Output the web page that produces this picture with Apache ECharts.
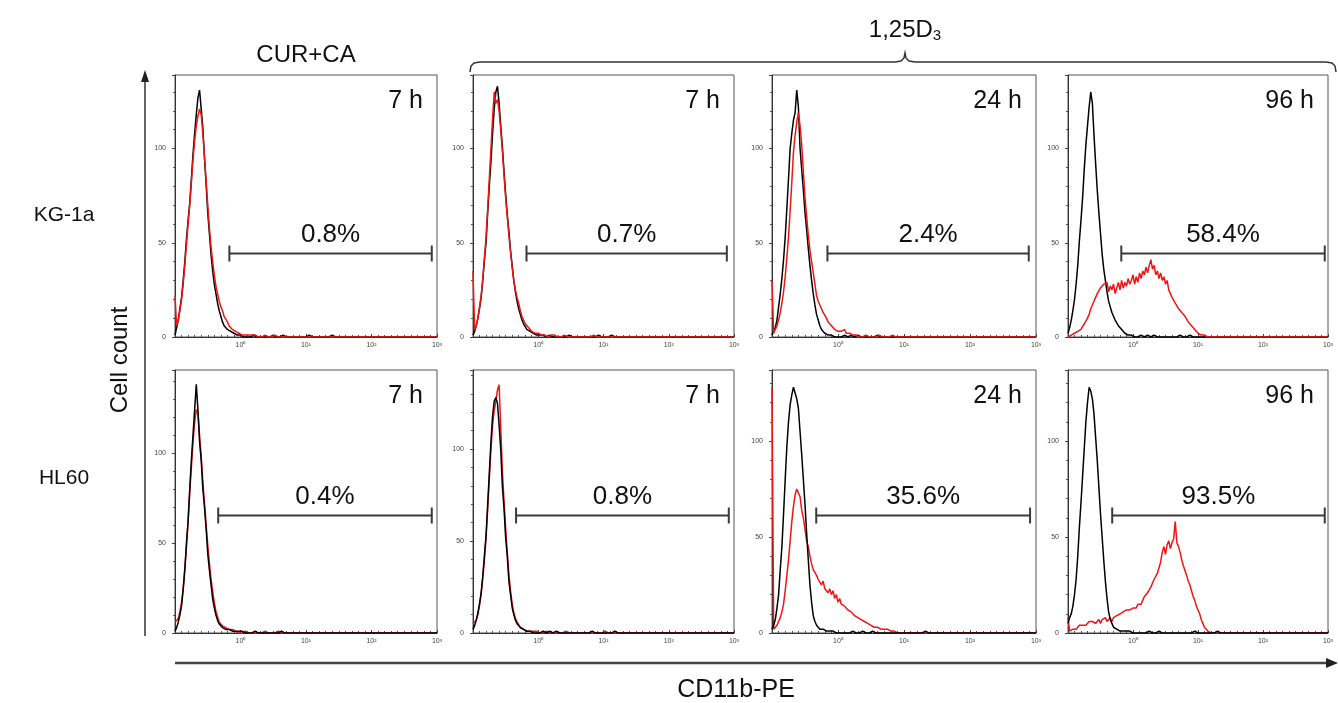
<!DOCTYPE html>
<html><head><meta charset="utf-8">
<script src="https://cdn.jsdelivr.net/npm/echarts@6/dist/echarts.min.js"></script>
<style>html,body{margin:0;padding:0;background:#fff}#c{width:1338px;height:703px}</style>
</head><body><div id="c"></div>
<script>
// ---- DATA ----
// channel positions in log10(fluorescence) units (10^-1 .. 10^3)
const channels = [
-1.000,-0.975,-0.950,-0.925,-0.900,-0.875,-0.850,-0.825,-0.800,-0.775,
-0.750,-0.725,-0.700,-0.675,-0.650,-0.625,-0.600,-0.575,-0.550,-0.525,
-0.500,-0.475,-0.450,-0.425,-0.400,-0.375,-0.350,-0.325,-0.300,-0.275,
-0.250,-0.225,-0.200,-0.175,-0.150,-0.125,-0.100,-0.075,-0.050,-0.025,
0.000,0.025,0.050,0.075,0.100,0.125,0.150,0.175,0.200,0.225,
0.250,0.275,0.300,0.325,0.350,0.375,0.400,0.425,0.450,0.475,
0.500,0.525,0.550,0.575,0.600,0.625,0.650,0.675,0.700,0.725,
0.750,0.775,0.800,0.825,0.850,0.875,0.900,0.925,0.950,0.975,
1.000,1.025,1.050,1.075,1.100,1.125,1.150,1.175,1.200,1.225,
1.250,1.275,1.300,1.325,1.350,1.375,1.400,1.425,1.450,1.475,
1.500,1.600,1.800,2.000,2.200,2.400,2.600,2.800,3.000];

// KG-1a, CUR+CA 7 h
const kg1a_curca_7h_ctrl = [
1,5,9,15,21,30,40,52,62,71, 84,97,108,118,127,131,121,111,95,81,
66,55,44,35,28,23,18,14,11,8, 6,5,4,3,3,2,2,1,1,1,
1,1,0,1,0,1,0,0,1,0, 0,1,0,0,0,1,0,0,0,0, 1,0,0,0,0,0,1,0,0,0,
0,0,0,1,0,0,0,0,0,0, 0,0,1,0,0,0,0,0,0,0, 0,0,0,0,0,0,1,0,0,0, 0,0,0,0,0,0,0,0,0];
const kg1a_curca_7h_trt = [
22,6,9,14,20,28,38,49,60,70, 82,94,104,112,117,121,118,108,96,83,
70,58,48,40,33,27,23,19,16,14, 11,10,8,6,5,4,3,3,2,2,
2,1,2,1,1,1,0,1,0,1, 1,0,1,0,0,1,0,0,1,0, 0,1,0,0,0,0,1,0,0,0,
0,0,1,0,0,0,0,0,1,0, 0,0,0,0,0,0,0,0,0,0, 0,0,0,0,0,0,0,0,0,0, 0,0,0,0,0,0,0,0,0];
// KG-1a, 1,25D3 7 h
const kg1a_d3_7h_ctrl = [
1,3,6,10,15,21,30,41,50,66, 80,93,108,121,130,133,124,112,101,88,
76,65,56,46,38,30,24,19,15,12, 9,7,6,4,3,3,2,2,2,1,
2,1,0,1,1,0,0,1,0,0, 1,0,0,0,1,0,0,0,0,1, 0,0,0,0,1,0,0,0,0,0,
1,0,0,0,0,0,0,1,0,0, 0,0,0,0,0,1,0,0,0,0, 0,0,0,0,0,0,0,0,0,0, 0,0,0,0,0,0,0,0,0];
const kg1a_d3_7h_trt = [
35,4,6,10,16,22,31,42,53,68, 84,100,116,130,124,126,120,110,99,86,
74,64,54,45,37,30,25,21,18,14, 11,9,7,6,5,4,3,3,2,2,
2,1,1,2,1,1,0,1,1,0, 1,0,0,1,0,0,1,0,0,0, 0,1,0,0,0,0,0,1,0,0,
0,0,0,0,1,0,0,0,0,0, 0,0,0,0,0,0,0,1,0,0, 0,0,0,0,0,0,0,0,0,0, 0,0,0,0,0,0,0,0,0];
// KG-1a, 1,25D3 24 h
const kg1a_d3_24h_ctrl = [
1,3,5,9,16,23,31,41,53,68, 84,100,108,115,119,131,122,100,89,78,
66,57,47,38,30,23,17,12,9,6, 4,3,2,2,1,1,1,1,0,1,
0,1,0,0,1,0,0,0,1,0, 0,0,1,0,0,0,0,1,0,0, 0,0,0,0,1,0,0,0,0,0,
0,1,0,0,0,0,0,0,0,1, 0,0,0,0,0,0,0,0,0,0, 0,0,0,1,0,0,0,0,0,0, 0,0,0,0,0,0,0,0,0];
const kg1a_d3_24h_trt = [
30,2,4,6,9,13,18,24,32,42, 53,67,82,98,107,114,119,112,102,88,
74,64,54,46,40,34,28,22,19,17, 15,13,12,10,8,7,6,5,4,3,
3,2,3,2,4,2,1,2,1,1, 0,1,1,0,1,0,0,1,0,0, 1,0,0,0,0,1,0,0,0,0,
0,0,0,1,0,0,0,0,0,0, 0,0,0,0,0,0,1,0,0,0, 0,0,0,0,0,0,0,0,0,0, 0,0,0,0,0,0,0,0,0];
// KG-1a, 1,25D3 96 h
const kg1a_d3_96h_ctrl = [
2,5,9,14,20,28,38,51,62,74, 89,102,112,122,130,124,107,92,78,66,
55,44,36,30,24,19,16,13,11,9, 8,6,5,4,3,2,2,1,1,1,
1,0,1,0,0,1,0,0,0,1, 0,0,0,1,0,0,0,0,1,0, 0,0,1,0,0,0,0,0,0,1,
0,0,0,0,0,1,0,0,0,0, 0,0,0,0,0,0,0,0,1,0, 0,0,0,0,0,0,0,0,0,0, 0,0,0,0,0,0,0,0,0];
const kg1a_d3_96h_trt = [
0,1,1,2,2,2,3,3,4,5, 7,8,10,12,15,17,19,21,23,24,
26,25,28,27,29,24,27,25,28,23, 26,29,25,30,26,29,27,31,28,30,
33,28,32,29,34,31,35,33,37,34, 38,41,36,38,33,35,31,34,30,32,
28,30,25,24,21,22,18,17,15,16, 13,13,11,10,8,8,6,5,4,3,
2,2,1,1,1,0,0,0,0,0, 0,0,0,0,0,0,0,0,0,0, 0,0,0,0,0,0,0,0,0];
// HL60, CUR+CA 7 h
const hl60_curca_7h_ctrl = [
1,3,6,10,15,24,35,50,62,80, 96,110,124,138,124,106,96,80,70,58,
44,35,27,19,14,10,7,5,4,3, 3,2,2,2,1,1,1,1,0,1,
0,1,0,0,1,0,0,0,0,1, 0,0,1,0,0,0,0,0,1,0, 0,0,0,0,0,1,0,0,0,0,
0,0,1,0,0,0,0,0,0,0, 0,0,0,0,0,0,1,0,0,0, 0,0,0,0,0,0,0,0,0,0, 0,0,0,0,0,0,0,0,0];
const hl60_curca_7h_trt = [
6,5,8,12,17,25,36,48,62,78, 92,106,117,124,122,110,98,84,72,60,
49,39,30,23,17,12,9,6,5,4, 3,3,2,2,1,2,1,1,1,0,
1,0,0,1,0,0,1,0,0,0, 1,0,0,0,0,1,0,0,0,0, 0,0,0,1,0,0,0,0,0,0,
0,0,0,0,0,0,1,0,0,0, 0,0,0,0,0,0,0,0,0,0, 0,0,0,0,0,0,0,0,0,0, 0,0,0,0,0,0,0,0,0];
// HL60, 1,25D3 7 h
const hl60_d3_7h_ctrl = [
2,4,7,11,16,22,31,42,53,70, 87,104,118,126,128,125,113,100,80,68,
52,42,28,21,14,10,7,5,4,3, 2,2,1,1,1,1,1,0,1,0,
1,0,0,1,0,0,0,1,0,0, 0,1,0,0,0,0,1,0,0,0, 0,0,0,0,1,0,0,0,0,0,
0,0,0,1,0,0,0,0,0,0, 0,0,0,0,0,0,0,1,0,0, 0,0,0,0,0,0,0,0,0,0, 0,0,0,0,0,0,0,0,0];
const hl60_d3_7h_trt = [
5,4,7,10,15,21,30,40,52,67, 84,100,113,121,126,132,135,112,88,72,
57,44,32,23,16,11,8,6,5,3, 3,2,2,1,1,1,0,1,0,1,
0,0,1,0,0,1,0,0,0,0, 1,0,0,0,0,0,0,1,0,0, 0,0,0,0,0,0,0,0,1,0,
0,0,0,0,0,0,0,0,0,0, 0,1,0,0,0,0,0,0,0,0, 0,0,0,0,0,0,0,0,0,0, 0,0,0,0,0,0,0,0,0];
// HL60, 1,25D3 24 h
const hl60_d3_24h_ctrl = [
2,4,7,13,20,33,45,62,80,97, 110,119,124,128,127,122,117,105,93,80,
67,52,38,25,16,9,6,4,3,2, 2,2,1,1,1,1,0,1,0,0,
1,0,0,0,1,0,0,0,0,1, 0,0,0,0,0,1,0,0,0,0, 0,1,0,0,0,0,0,0,0,0,
0,0,0,0,1,0,0,0,0,0, 0,0,0,0,0,0,0,0,0,0, 0,0,0,1,0,0,0,0,0,0, 0,0,0,0,0,0,0,0,0];
const hl60_d3_24h_trt = [
128,2,3,4,6,8,11,15,22,30, 38,48,58,66,72,75,76,71,64,60,
54,48,45,40,36,33,34,30,28,29, 25,27,23,24,21,23,20,22,18,20,
16,18,15,16,14,15,12,13,11,11, 9,10,8,8,7,7,6,6,5,4,
4,4,3,3,3,2,2,2,2,1, 2,1,1,1,1,1,0,1,0,0,
0,0,0,0,0,0,0,0,0,0, 0,0,0,0,0,0,0,0,0,0, 0,0,0,0,0,0,0,0,0];
// HL60, 1,25D3 96 h
const hl60_d3_96h_ctrl = [
5,8,10,14,20,28,40,55,68,82, 96,110,120,128,126,122,114,102,90,76,
62,50,38,27,18,11,7,5,3,3, 2,2,1,1,1,1,1,0,1,0,
0,1,0,0,0,1,0,0,0,0, 1,0,0,0,0,0,1,0,0,0, 0,0,0,1,0,0,0,0,0,0,
0,0,0,0,0,0,0,0,1,0, 0,0,0,0,0,0,0,0,0,0, 0,0,1,0,0,0,0,0,0,0, 0,0,0,0,0,0,0,0,0];
const hl60_d3_96h_trt = [
8,1,2,2,3,2,3,4,3,4, 5,4,5,6,5,6,7,5,6,7,
5,7,6,8,6,7,8,6,8,7, 9,8,10,9,11,10,12,11,12,13,
13,14,13,15,16,15,17,19,18,21, 22,24,26,28,27,31,34,37,42,45,
41,46,48,44,47,49,58,47,45,42, 38,35,34,30,27,25,22,19,17,14,
12,10,7,5,3,2,1,0,0,0, 0,0,0,0,0,0,0,0,0,0, 0,0,0,0,0,0,0,0,0];

const rowLabels = ['KG-1a', 'HL60'];
const timeLabels = ['7 h', '7 h', '24 h', '96 h'];
const pctLabels = [['0.8%', '0.7%', '2.4%', '58.4%'], ['0.4%', '0.8%', '35.6%', '93.5%']];
const gateStart = [[-0.17, -0.18, -0.16, -0.18], [-0.34, -0.34, -0.33, -0.32]];
const gateEnd = [[2.92, 2.89, 2.89, 2.95], [2.92, 2.92, 2.91, 2.95]];
const yMax = [[139, 139, 139, 139], [146, 143, 137, 137]];
const xTickLabels = ['10\u2070', '10\u00b9', '10\u00b2', '10\u00b3'];
const yTickValues = [0, 50, 100];

const ctrlData = [[kg1a_curca_7h_ctrl, kg1a_d3_7h_ctrl, kg1a_d3_24h_ctrl, kg1a_d3_96h_ctrl],
                  [hl60_curca_7h_ctrl, hl60_d3_7h_ctrl, hl60_d3_24h_ctrl, hl60_d3_96h_ctrl]];
const trtData = [[kg1a_curca_7h_trt, kg1a_d3_7h_trt, kg1a_d3_24h_trt, kg1a_d3_96h_trt],
                 [hl60_curca_7h_trt, hl60_d3_7h_trt, hl60_d3_24h_trt, hl60_d3_96h_trt]];

// ---- LAYOUT / STYLE ----
const FONT = '"Liberation Sans", Arial, sans-serif';
const TXT = '#111';
const colLeft = [175, 473, 772, 1068];
const colWidth = [262, 261, 264, 260];
const rowTop = [75, 370];
const rowHeight = [262, 263];
const gateFrac = [0.322, 0.449];

const grids = [], xAxes = [], yAxes = [], series = [];
for (let r = 0; r < 2; r++) {
  for (let c = 0; c < 4; c++) {
    const i = grids.length;
    grids.push({left: colLeft[c], top: rowTop[r], width: colWidth[c], height: rowHeight[r],
      show: true, borderColor: '#555', borderWidth: 1, backgroundColor: 'transparent'});
    xAxes.push({type: 'value', gridIndex: i, min: -1, max: 3, interval: 1,
      axisLine: {show: true, onZero: false, lineStyle: {color: '#333', width: 1}},
      axisTick: {show: true, inside: true, length: 3, lineStyle: {color: '#444'}},
      minorTick: {show: true, splitNumber: 10, length: 2, lineStyle: {color: '#555'}},
      splitLine: {show: false}, minorSplitLine: {show: false},
      axisLabel: {fontSize: 7, color: '#444', margin: 5, fontFamily: FONT,
        formatter: v => { const k = Math.round(v); return (k >= 0 && Math.abs(v - k) < 1e-6) ? xTickLabels[k] : ''; }}
    });
    yAxes.push({type: 'value', gridIndex: i, min: 0, max: yMax[r][c], interval: 50,
      axisLine: {show: true, onZero: false, lineStyle: {color: '#333', width: 1}},
      axisTick: {show: true, inside: false, length: 3, lineStyle: {color: '#444'}},
      minorTick: {show: true, splitNumber: 5, length: 2, lineStyle: {color: '#555'}},
      splitLine: {show: false}, minorSplitLine: {show: false},
      axisLabel: {fontSize: 7, color: '#444', margin: 9, fontFamily: FONT,
        formatter: v => yTickValues.indexOf(v) >= 0 ? String(v) : ''}
    });
    const ctrl = {type: 'line', xAxisIndex: i, yAxisIndex: i, showSymbol: false, silent: true,
      data: channels.map((x, k) => [x, ctrlData[r][c][k]]),
      lineStyle: {color: '#000', width: 1.5}, animation: false};
    const trt = {type: 'line', xAxisIndex: i, yAxisIndex: i, showSymbol: false, silent: true,
      data: channels.map((x, k) => [x, trtData[r][c][k]]),
      lineStyle: {color: '#f01515', width: 1.5}, animation: false};
    if (r === 0) { series.push(ctrl, trt); } else { series.push(trt, ctrl); }
    const pct = pctLabels[r][c], tl = timeLabels[c], gf = gateFrac[r];
    series.push({type: 'custom', xAxisIndex: i, yAxisIndex: i, clip: false, silent: true, animation: false,
      data: [[gateStart[r][c], gateEnd[r][c]]],
      renderItem: (params, api) => {
        const cs = params.coordSys;
        const x1 = api.coord([api.value(0), 0])[0];
        const x2 = api.coord([api.value(1), 0])[0];
        const y = Math.round(cs.y + cs.height * (1 - gf)) + 0.5;
        const st = {stroke: '#3a3a3a', lineWidth: 2};
        return {type: 'group', children: [
          {type: 'line', shape: {x1: x1, y1: y, x2: x2, y2: y}, style: st},
          {type: 'line', shape: {x1: x1, y1: y - 8, x2: x1, y2: y + 8}, style: st},
          {type: 'line', shape: {x1: x2, y1: y - 8, x2: x2, y2: y + 8}, style: st},
          {type: 'text', x: (x1 + x2) / 2, y: y - 19, style: {text: pct, fontSize: 26, fontFamily: FONT,
            fill: TXT, align: 'center', verticalAlign: 'middle'}},
          {type: 'text', x: cs.x + cs.width - 14, y: cs.y + 26, style: {text: tl, fontSize: 25, fontFamily: FONT,
            fill: TXT, align: 'right', verticalAlign: 'middle'}}
        ]};
      }
    });
  }
}

const graphic = [
  {type: 'text', x: 306, y: 55, style: {text: 'CUR+CA', fontSize: 24, fontFamily: FONT, fill: TXT, align: 'center', verticalAlign: 'middle'}},
  {type: 'text', x: 905, y: 30, style: {text: '{a|1,25D}{s|3}', fontFamily: FONT, fill: TXT, align: 'center', verticalAlign: 'middle',
     rich: {a: {fontSize: 24, fontFamily: FONT, fill: TXT}, s: {fontSize: 15, fontFamily: FONT, fill: TXT, padding: [12, 0, 0, 0]}}}},
  {type: 'polyline', shape: {points: [[470,72],[471,66],[474,63],[480,62],[895,62],[901,61],[904,58],[905,53],[906,58],[909,61],[915,62],[1326,62],[1332,63],[1335,66],[1336,72]]},
     style: {fill: null, stroke: '#333', lineWidth: 1.5}},
  {type: 'text', x: 64, y: 215, style: {text: rowLabels[0], fontSize: 21, fontFamily: FONT, fill: TXT, align: 'center', verticalAlign: 'middle'}},
  {type: 'text', x: 64, y: 478, style: {text: rowLabels[1], fontSize: 21, fontFamily: FONT, fill: TXT, align: 'center', verticalAlign: 'middle'}},
  {type: 'text', x: 120, y: 360, rotation: Math.PI / 2, style: {text: 'Cell count', fontSize: 24, fontFamily: FONT, fill: TXT, align: 'center', verticalAlign: 'middle'}},
  {type: 'text', x: 736, y: 690, style: {text: 'CD11b-PE', fontSize: 25, fontFamily: FONT, fill: TXT, align: 'center', verticalAlign: 'middle'}},
  {type: 'line', shape: {x1: 145, y1: 636, x2: 145, y2: 80}, style: {stroke: '#333', lineWidth: 1.5}},
  {type: 'polygon', shape: {points: [[145, 70], [141, 82], [149, 82]]}, style: {fill: '#222'}},
  {type: 'line', shape: {x1: 175, y1: 663, x2: 1328, y2: 663}, style: {stroke: '#444', lineWidth: 2.5}},
  {type: 'polygon', shape: {points: [[1338, 663], [1326, 658], [1326, 668]]}, style: {fill: '#222'}}
];

const chart = echarts.init(document.getElementById('c'), null, {renderer: 'canvas'});
chart.setOption({animation: false, backgroundColor: '#fff', grid: grids, xAxis: xAxes, yAxis: yAxes, series: series, graphic: graphic});
</script></body></html>
